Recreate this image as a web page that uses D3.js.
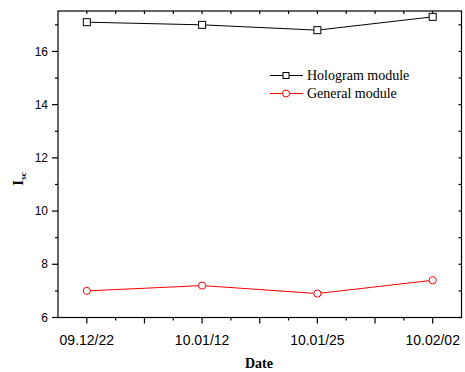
<!DOCTYPE html>
<html>
<head>
<meta charset="utf-8"/>
<script src="https://d3js.org/d3.v7.min.js"></script>
<style>
  body { margin: 0; background: #fff; }
  svg { display: block; }
</style>
</head>
<body>
<svg id="chart" width="465" height="372"></svg>
<script>
// data
var dates = ["09.12/22", "10.01/12", "10.01/25", "10.02/02"];
var hologram = [17.1, 17.0, 16.8, 17.3];
var general = [7.0, 7.2, 6.9, 7.4];
var yTicks = [6, 8, 10, 12, 14, 16];

var svg = d3.select("#chart");
var m = {left: 58, right: 461.5, top: 11, bottom: 317.5};

// x is the category index (1..4), Origin-like padding
var x = d3.scaleLinear().domain([0.75, 4.25]).range([m.left, m.right]);
var y = d3.scaleLinear().domain([6, 17.52]).range([m.bottom, m.top]);

var g = svg.append("g");

// minor / major ticks
var xMajor = d3.range(1, 4.01, 0.5);
var xMinor = d3.range(1.25, 4.01, 0.5);
var yMinor = d3.range(7, 17.01, 2);

function tickLines(sel, vals, fn) {
  sel.selectAll(null).data(vals).enter().append("line")
    .each(fn)
    .attr("stroke", "#000").attr("stroke-width", 1.2);
}

// bottom axis: outward ticks
tickLines(g, xMajor, function(d) { d3.select(this).attr("x1", x(d)).attr("x2", x(d)).attr("y1", m.bottom).attr("y2", m.bottom + 6); });
tickLines(g, xMinor, function(d) { d3.select(this).attr("x1", x(d)).attr("x2", x(d)).attr("y1", m.bottom).attr("y2", m.bottom + 3); });
// top axis: inward ticks
tickLines(g, xMajor.concat(xMinor), function(d) { d3.select(this).attr("x1", x(d)).attr("x2", x(d)).attr("y1", m.top).attr("y2", m.top + 3); });
// left axis: outward ticks
tickLines(g, yTicks, function(d) { d3.select(this).attr("x1", m.left - 6).attr("x2", m.left).attr("y1", y(d)).attr("y2", y(d)); });
tickLines(g, yMinor, function(d) { d3.select(this).attr("x1", m.left - 3).attr("x2", m.left).attr("y1", y(d)).attr("y2", y(d)); });
// right axis: inward ticks
tickLines(g, yTicks.concat(yMinor), function(d) { d3.select(this).attr("x1", m.right - 3).attr("x2", m.right).attr("y1", y(d)).attr("y2", y(d)); });

// frame
g.append("rect")
  .attr("x", m.left).attr("y", m.top)
  .attr("width", m.right - m.left).attr("height", m.bottom - m.top)
  .attr("fill", "none").attr("stroke", "#000").attr("stroke-width", 1.2);

// tick labels
g.selectAll(".xl").data(dates).enter().append("text")
  .attr("x", function(d, i) { return x(i + 1); })
  .attr("y", m.bottom + 27)
  .attr("text-anchor", "middle")
  .style("font-family", "'Liberation Sans', Arial, sans-serif")
  .style("font-size", "14px")
  .text(function(d) { return d; });

g.selectAll(".yl").data(yTicks).enter().append("text")
  .attr("x", m.left - 10)
  .attr("y", function(d) { return y(d); })
  .attr("dy", "0.35em")
  .attr("text-anchor", "end")
  .style("font-family", "'Liberation Sans', Arial, sans-serif")
  .style("font-size", "12px")
  .text(function(d) { return d; });

// axis titles
svg.append("text")
  .attr("x", 259).attr("y", 368)
  .attr("text-anchor", "middle")
  .style("font-family", "'Liberation Serif', 'Times New Roman', serif")
  .style("font-size", "14px").style("font-weight", "bold")
  .text("Date");

var yt = svg.append("text")
  .attr("transform", "translate(23,179) rotate(-90)")
  .attr("text-anchor", "middle")
  .style("font-family", "'Liberation Serif', 'Times New Roman', serif")
  .style("font-size", "15px").style("font-weight", "bold");
yt.append("tspan").text("I");
yt.append("tspan").attr("dy", 3).style("font-size", "9px").text("sc");

// series
var line = d3.line().x(function(d, i) { return x(i + 1); }).y(function(d) { return y(d); });

g.append("path").datum(hologram).attr("d", line)
  .attr("fill", "none").attr("stroke", "#000").attr("stroke-width", 1);
g.append("path").datum(general).attr("d", line)
  .attr("fill", "none").attr("stroke", "#ff0000").attr("stroke-width", 1);

g.selectAll(".sq").data(hologram).enter().append("rect")
  .attr("x", function(d, i) { return x(i + 1) - 3.5; })
  .attr("y", function(d) { return y(d) - 3.5; })
  .attr("width", 7).attr("height", 7)
  .attr("fill", "#fff").attr("stroke", "#000").attr("stroke-width", 1);

g.selectAll(".ci").data(general).enter().append("circle")
  .attr("cx", function(d, i) { return x(i + 1); })
  .attr("cy", function(d) { return y(d); })
  .attr("r", 3.6)
  .attr("fill", "#fff").attr("stroke", "#ff0000").attr("stroke-width", 1);

// legend
var legend = [
  {name: "Hologram module", color: "#000", shape: "square", yy: 75.5},
  {name: "General module", color: "#ff0000", shape: "circle", yy: 93.5}
];
legend.forEach(function(l) {
  svg.append("line").attr("x1", 270).attr("x2", 303).attr("y1", l.yy).attr("y2", l.yy)
    .attr("stroke", l.color).attr("stroke-width", 1);
  if (l.shape == "square") {
    svg.append("rect").attr("x", 286 - 3).attr("y", l.yy - 3).attr("width", 6).attr("height", 6)
      .attr("fill", "#fff").attr("stroke", l.color);
  } else {
    svg.append("circle").attr("cx", 286).attr("cy", l.yy).attr("r", 3.5)
      .attr("fill", "#fff").attr("stroke", l.color);
  }
  svg.append("text").attr("x", 307).attr("y", l.yy).attr("dy", "0.33em")
    .style("font-family", "'Liberation Serif', 'Times New Roman', serif")
    .style("font-size", "14px")
    .text(l.name);
});
</script>
</body>
</html>
